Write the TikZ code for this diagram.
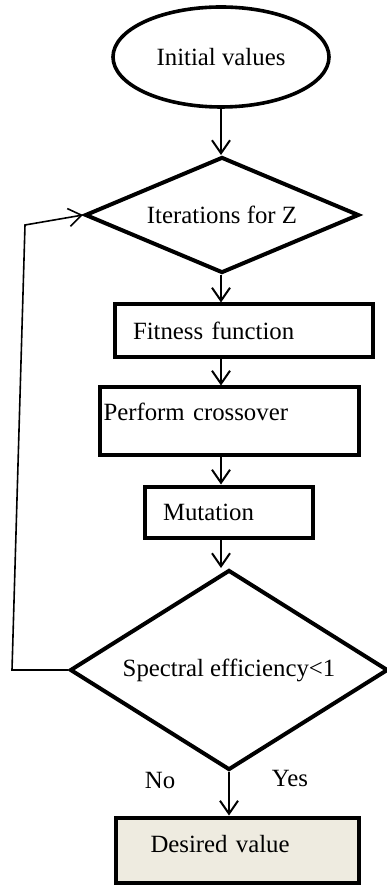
\documentclass[tikz,border=0pt]{standalone}
\usepackage{fontspec}
\setmainfont{Liberation Serif}
\usepackage{tikz}
\usetikzlibrary{positioning, shapes.geometric, arrows.meta}
\definecolor{BoxFill}{RGB}{238,235,224}

\begin{document}
\begin{tikzpicture}[x=0.5pt, y=-0.5pt,
  font=\fontsize{12.4}{15}\selectfont,
  >={Straight Barb[length=6.5pt, width=9pt]},
  flow/.style={->, line width=1pt},
  block/.style={draw, rectangle, line width=2pt, align=left, inner ysep=0pt},
  decide/.style={draw, diamond, aspect=2.2, line width=2pt, inner sep=0pt}]
\useasboundingbox (0, 0) rectangle (386, 886);

\node[draw, ellipse, line width=1.8pt, minimum width=108pt, minimum height=50pt] (ini) at (221, 57) {Initial values};
\node[decide, minimum width=137pt, minimum height=58pt] (iter) at (222, 215) {Iterations for Z};
\node[block, inner xsep=9pt, text width=111pt, minimum height=26.5pt] (fit) at (244, 331) {Fitness function};
\node[block, inner xsep=2pt, text width=125.5pt, minimum height=33.5pt, text depth=9pt] (cross) at (229, 421) {Perform crossover};
\node[block, inner xsep=9pt, text width=66pt, minimum height=25.5pt] (mut) at (229, 512) {Mutation};
\node[decide, minimum width=159pt, minimum height=100pt] (spec) at (229, 670) {Spectral efficiency<1};
\node[block, fill=BoxFill, inner xsep=17.5pt, text width=86.5pt, minimum height=32.5pt, text depth=6pt] (want) at (237, 850) {Desired value};
\node (no) at (160, 780) {No};
\node (yes) at (290, 778) {Yes};

\coordinate (col) at (221, 0);
\coordinate (loopb) at (12, 670);
\coordinate (loopt) at (25, 225);

\draw[flow] (ini.south) -- (ini.south |- iter.north);
\draw[flow] (col |- iter.south) -- (col |- fit.north);
\draw[flow] (col |- fit.south) -- (col |- cross.north);
\draw[flow] (col |- cross.south) -- (col |- mut.north);
\draw[flow] (col |- mut.south) -- (col |- spec.north);
\draw[flow] (spec.south) -- (spec.south |- want.north);
\draw[->, line width=0.8pt] (spec.west) -- (loopb) -- (loopt) -- (iter.west);
\end{tikzpicture}
\end{document}
